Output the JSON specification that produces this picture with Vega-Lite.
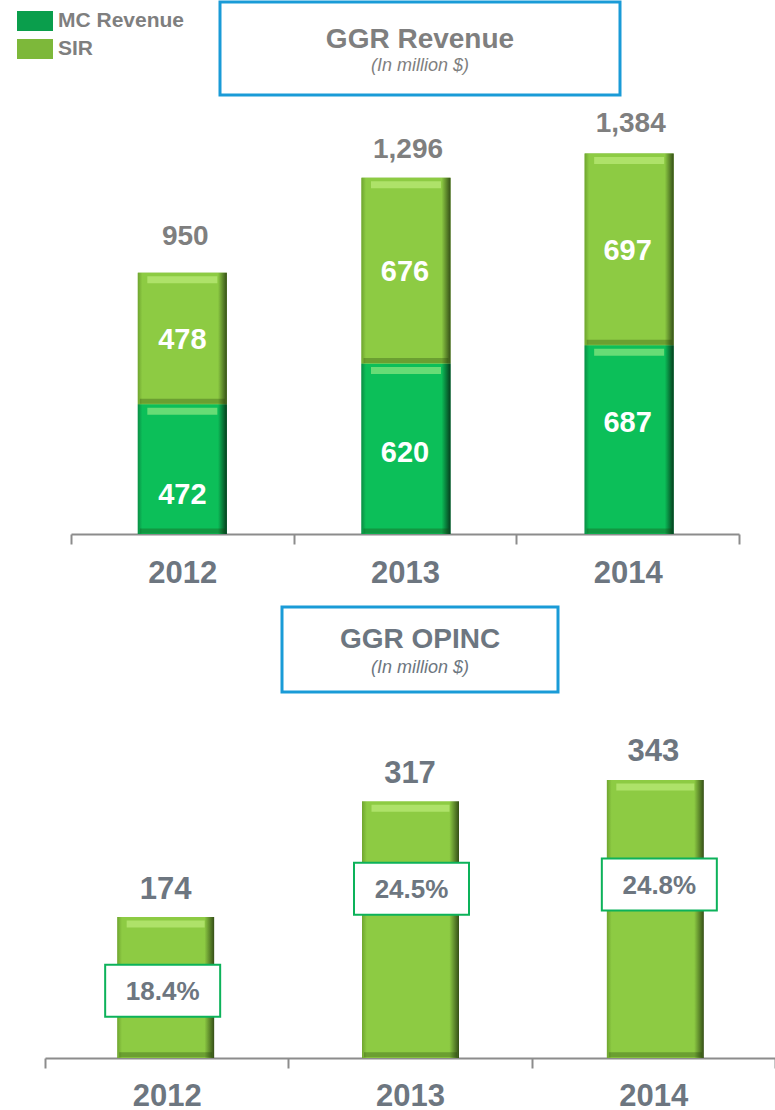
{
"$schema":"https://vega.github.io/schema/vega-lite/v6.json",
"padding":0,
"background":"white",
"spacing":0,
"bounds":"flush",
"config":{"view":{"stroke":null},"font":"Liberation Sans"},
"datasets":{
"revenue":[
{"year":"2012","series":"MC Revenue","rank":1,"value":472,"labelAt":145},
{"year":"2012","series":"SIR","rank":2,"value":478,"labelAt":709},
{"year":"2013","series":"MC Revenue","rank":1,"value":620,"labelAt":298},
{"year":"2013","series":"SIR","rank":2,"value":676,"labelAt":957},
{"year":"2014","series":"MC Revenue","rank":1,"value":687,"labelAt":407},
{"year":"2014","series":"SIR","rank":2,"value":697,"labelAt":1033}],
"revenueTotal":[
{"year":"2012","total":950,"labelAt":1084},
{"year":"2013","total":1296,"labelAt":1400},
{"year":"2014","total":1384,"labelAt":1495}],
"opinc":[
{"year":"2012","value":174,"labelAt":210,"margin":"18.4%","marginAt":83},
{"year":"2013","value":317,"labelAt":353,"margin":"24.5%","marginAt":209},
{"year":"2014","value":343,"labelAt":380,"margin":"24.8%","marginAt":214}]
},
"vconcat":[
{"width":775,"height":95,
 "data":{"values":[{"title":"GGR Revenue","note":"(In million $)"}]},
 "layer":[
 {"mark":{"type":"rect","fill":"transparent","stroke":"#1A9BD7","strokeWidth":3},
  "encoding":{"x":{"datum":0,"type":"quantitative","scale":{"domain":[0,1],"range":[220,620]},"axis":null},"x2":{"datum":1},
  "y":{"datum":0,"type":"quantitative","scale":{"domain":[0,1],"range":[95,2]},"axis":null},"y2":{"datum":1}}},
 {"mark":{"type":"text","fontSize":28,"fontWeight":"bold","color":"#7F7F7F"},
  "encoding":{"x":{"datum":0.5,"type":"quantitative"},"y":{"datum":0.59,"type":"quantitative"},"text":{"field":"title"}}},
 {"mark":{"type":"text","fontSize":18,"fontStyle":"italic","color":"#7F7F7F"},
  "encoding":{"x":{"datum":0.5,"type":"quantitative"},"y":{"datum":0.31,"type":"quantitative"},"text":{"field":"note"}}}
 ]},
{"width":775,"height":439,
 "data":{"name":"revenue"},
 "transform":[{"stack":"value","groupby":["year"],"sort":[{"field":"rank","order":"ascending"}],"as":["y0","y1"]}],
 "encoding":{"x":{"field":"year","type":"nominal","title":null,
   "scale":{"range":[71,739],"paddingInner":0,"paddingOuter":0},
   "axis":{"labelAngle":0,"labelFontSize":31,"labelFontWeight":"bold","labelColor":"#6D7680","labelPadding":14,"tickBand":"extent","tickSize":10,"tickWidth":2,"tickColor":"#8C8C8C","domainColor":"#8C8C8C","domainWidth":2,"grid":false}}},
 "layer":[
 {"mark":{"type":"bar","size":89,"xOffset":{"expr":"datum.year==='2012'?0:datum.year==='2013'?1:1.5"}},
  "encoding":{"y":{"field":"y0","type":"quantitative","scale":{"domain":[0,1597],"nice":false},"axis":null},"y2":{"field":"y1"},
   "color":{"field":"series","type":"nominal","scale":{"domain":["MC Revenue","SIR"],"range":["#0A9E4C","#7DB83A"]},
    "legend":{"title":null,"orient":"none","legendX":17,"legendY":3,"symbolType":"M-1,-0.55H1V0.55H-1Z","symbolSize":1296,"symbolStrokeWidth":0,"labelFontSize":21,"labelFontWeight":"bold","labelColor":"#7F7F7F","rowPadding":0,"labelOffset":5}}}},
 {"transform":[{"filter":"datum.series==='MC Revenue'"}],
  "mark":{"type":"bar","size":89,"xOffset":{"expr":"datum.year==='2012'?0:datum.year==='2013'?1:1.5"},"color":{"gradient":"linear","x1":0,"x2":1,"y1":0,"y2":0,"stops":[{"offset":0,"color":"#0A8F45"},{"offset":0.05,"color":"#0CBF59"},{"offset":0.9,"color":"#0CBF59"},{"offset":1,"color":"#053D1D"}]}},
  "encoding":{"y":{"field":"y0","type":"quantitative"},"y2":{"field":"y1"}}},
 {"transform":[{"filter":"datum.series==='SIR'"}],
  "mark":{"type":"bar","size":89,"xOffset":{"expr":"datum.year==='2012'?0:datum.year==='2013'?1:1.5"},"color":{"gradient":"linear","x1":0,"x2":1,"y1":0,"y2":0,"stops":[{"offset":0,"color":"#6FA52F"},{"offset":0.05,"color":"#8DCB43"},{"offset":0.9,"color":"#8DCB43"},{"offset":1,"color":"#354F17"}]}},
  "encoding":{"y":{"field":"y0","type":"quantitative"},"y2":{"field":"y1"}}},
 {"mark":{"type":"tick","size":70,"thickness":7,"yOffset":7,"color":"#D8FF9A","opacity":0.45,"xOffset":{"expr":"datum.year==='2012'?0:datum.year==='2013'?1:1.5"}},
  "encoding":{"y":{"field":"y1","type":"quantitative"}}},
 {"mark":{"type":"tick","size":85,"thickness":5,"yOffset":-3,"color":"#1F3D0A","opacity":0.3,"xOffset":{"expr":"datum.year==='2012'?0:datum.year==='2013'?1:1.5"}},
  "encoding":{"y":{"field":"y0","type":"quantitative"}}},
 {"mark":{"type":"text","fontSize":29,"fontWeight":"bold","color":"white","dy":1},
  "encoding":{"y":{"field":"labelAt","type":"quantitative"},"text":{"field":"value","type":"quantitative"}}},
 {"data":{"name":"revenueTotal"},
  "mark":{"type":"text","fontSize":28,"fontWeight":"bold","color":"#7F7F7F","dy":1,"dx":3},
  "encoding":{"y":{"field":"labelAt","type":"quantitative"},"text":{"field":"total","type":"quantitative","format":","}}}
 ]},
{"width":775,"height":161,
 "data":{"values":[{"title":"GGR OPINC","note":"(In million $)"}]},
 "layer":[
 {"mark":{"type":"rect","fill":"transparent","stroke":"#1A9BD7","strokeWidth":3},
  "encoding":{"x":{"datum":0,"type":"quantitative","scale":{"domain":[0,1],"range":[282,558]},"axis":null},"x2":{"datum":1},
  "y":{"datum":0,"type":"quantitative","scale":{"domain":[0,1],"range":[158,73]},"axis":null},"y2":{"datum":1}}},
 {"mark":{"type":"text","fontSize":28,"fontWeight":"bold","color":"#6D7680"},
  "encoding":{"x":{"datum":0.5,"type":"quantitative"},"y":{"datum":0.61,"type":"quantitative"},"text":{"field":"title"}}},
 {"mark":{"type":"text","fontSize":18,"fontStyle":"italic","color":"#6D7680"},
  "encoding":{"x":{"datum":0.5,"type":"quantitative"},"y":{"datum":0.28,"type":"quantitative"},"text":{"field":"note"}}}
 ]},
{"width":775,"height":363,
 "data":{"name":"opinc"},
 "encoding":{"x":{"field":"year","type":"nominal","title":null,
   "scale":{"range":[45,775],"paddingInner":0,"paddingOuter":0},
   "axis":{"labelAngle":0,"labelFontSize":31,"labelFontWeight":"bold","labelColor":"#6D7680","labelPadding":13,"tickBand":"extent","tickSize":10,"tickWidth":2,"tickColor":"#8C8C8C","domainColor":"#8C8C8C","domainWidth":2,"grid":false}}},
 "layer":[
 {"mark":{"type":"bar","size":97,"xOffset":{"expr":"datum.year==='2012'?-1:datum.year==='2013'?0.5:2"},"color":{"gradient":"linear","x1":0,"x2":1,"y1":0,"y2":0,"stops":[{"offset":0,"color":"#6FA52F"},{"offset":0.05,"color":"#8DCB43"},{"offset":0.9,"color":"#8DCB43"},{"offset":1,"color":"#354F17"}]}},
  "encoding":{"y":{"field":"value","type":"quantitative","scale":{"domain":[0,448],"nice":false},"axis":null}}},
 {"mark":{"type":"tick","size":78,"thickness":7,"yOffset":7,"color":"#D8FF9A","opacity":0.45,"xOffset":{"expr":"datum.year==='2012'?-1:datum.year==='2013'?0.5:2"}},
  "encoding":{"y":{"field":"value","type":"quantitative"}}},
 {"mark":{"type":"tick","size":93,"thickness":5,"color":"#1F3D0A","opacity":0.3,"xOffset":{"expr":"datum.year==='2012'?-1:datum.year==='2013'?0.5:2"}},
  "encoding":{"y":{"datum":4,"type":"quantitative"}}},
 {"mark":{"type":"text","fontSize":31,"fontWeight":"bold","color":"#6D7680","dy":2,"xOffset":{"expr":"datum.year==='2012'?-1:0"}},
  "encoding":{"y":{"field":"labelAt","type":"quantitative"},"text":{"field":"value","type":"quantitative"}}},
 {"mark":{"type":"tick","size":115,"thickness":52,"color":"white","stroke":"#0CB25A","strokeWidth":2,"opacity":1,"xOffset":{"expr":"datum.year==='2012'?-4:datum.year==='2013'?1.5:6"}},
  "encoding":{"y":{"field":"marginAt","type":"quantitative"}}},
 {"mark":{"type":"text","fontSize":26,"fontWeight":"bold","color":"#6D7680","dy":1,"xOffset":{"expr":"datum.year==='2012'?-4:datum.year==='2013'?1.5:6"}},
  "encoding":{"y":{"field":"marginAt","type":"quantitative"},"text":{"field":"margin"}}}
 ]}
]
}
